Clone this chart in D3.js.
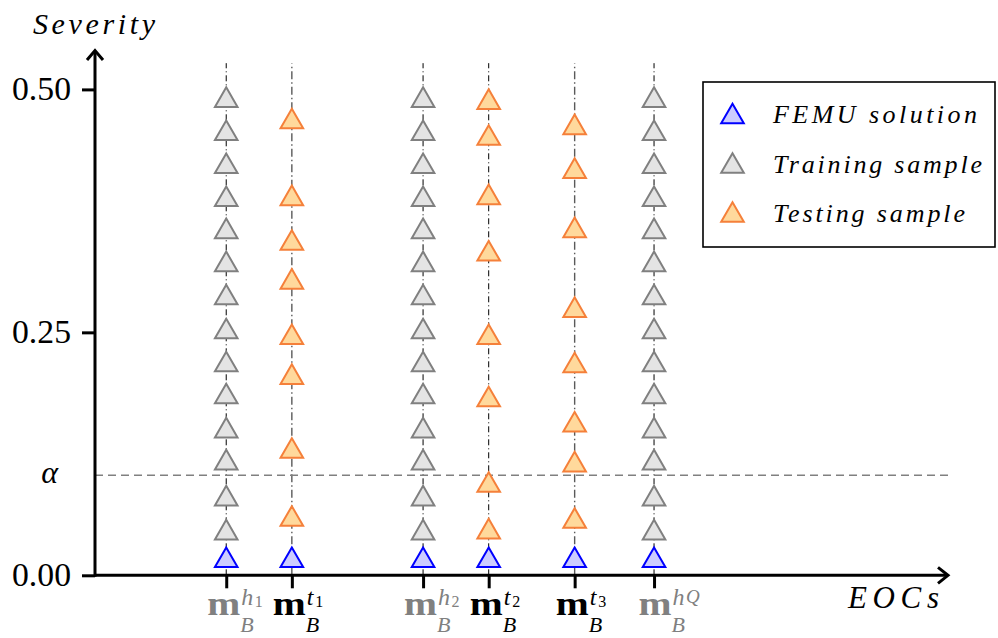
<!DOCTYPE html>
<html>
<head>
<meta charset="utf-8">
<script src="https://cdn.jsdelivr.net/npm/d3@7"></script>
<style>
  body { margin: 0; background: #fff; }
  svg { display: block; }
</style>
</head>
<body>
<svg id="chart" width="998" height="638"></svg>
<script>
// EOC columns along the horizontal axis
const eocNames = ["h1", "t1", "h2", "t2", "t3", "hQ"];
const eocPositions = [2, 3, 5, 6, 7.31, 8.52];
const eocKinds = ["training", "testing", "training", "testing", "testing", "training"];
const eocSupLetters = ["h", "t", "h", "t", "t", "h"];
const eocSupIndices = ["1", "1", "2", "2", "3", "Q"];

// Severity levels
const femuSeverity = 0.0185;
const trainingSeverities = [0.047, 0.082, 0.119, 0.152, 0.187, 0.220, 0.254,
                            0.289, 0.323, 0.357, 0.390, 0.424, 0.458, 0.492];
const testingT1 = [0.061, 0.131, 0.207, 0.248, 0.305, 0.345, 0.391, 0.470];
const testingT2 = [0.048, 0.096, 0.184, 0.248, 0.334, 0.392, 0.453, 0.490];
const testingT3 = [0.059, 0.117, 0.158, 0.219, 0.276, 0.358, 0.419, 0.464];

const yTicks = [0, 0.25, 0.5];
const yTickLabels = ["0.00", "0.25", "0.50"];
const alphaLevel = 0.103;
const columnTop = 0.527;

const legendLabels = ["FEMU solution", "Training sample", "Testing sample"];

// ---------------------------------------------------------------
const svg = d3.select("#chart");
const serif = '"Liberation Serif"';

const x = d3.scaleLinear().domain([0, 13]).range([95, 948]);
const y = d3.scaleLinear().domain([0, 0.5]).range([575.3, 89.4]);

const styles = {
  femu:     { fill: "#ccccff", stroke: "#0000ff" },
  training: { fill: "#e4e4e4", stroke: "#808080" },
  testing:  { fill: "#ffd99c", stroke: "#f5803a" }
};

const tri = d3.symbol().type({
  draw(ctx) {
    const w = 11.3, h = 9.8;
    ctx.moveTo(0, -h);
    ctx.lineTo(w, h);
    ctx.lineTo(-w, h);
    ctx.closePath();
  }
})();

// Helper for serif text with the usual settings
function label(parent, props) {
  const t = parent.append("text")
    .attr("x", props.x).attr("y", props.y)
    .style("font-family", serif)
    .style("font-size", props.size + "px")
    .style("font-style", props.italic ? "italic" : "normal")
    .style("font-weight", props.bold ? "bold" : "normal")
    .attr("fill", props.fill || "#000")
    .text(props.text);
  if (props.anchor) t.attr("text-anchor", props.anchor);
  if (props.length) t.attr("textLength", props.length).attr("lengthAdjust", props.adjust || "spacing");
  return t;
}

// Vertical dash-dot guides, one per EOC
const greyGuides = new Set(["t1", "t3"]);
svg.append("g").selectAll("line")
  .data(eocNames)
  .join("line")
  .attr("x1", (d, i) => x(eocPositions[i]))
  .attr("x2", (d, i) => x(eocPositions[i]))
  .attr("y1", y(0))
  .attr("y2", y(columnTop))
  .attr("stroke", d => greyGuides.has(d) ? "#5a5a5a" : "#000")
  .attr("stroke-width", d => greyGuides.has(d) ? 1.4 : 1)
  .attr("stroke-dasharray", d => greyGuides.has(d) ? "8,3,1.5,3" : "6,3,1,3");

// Alpha threshold
svg.append("line")
  .attr("x1", x(0)).attr("x2", x(13))
  .attr("y1", y(alphaLevel)).attr("y2", y(alphaLevel))
  .attr("stroke", "#808080")
  .attr("stroke-width", 1.5)
  .attr("stroke-dasharray", "8,5");

// Sample points
const testingByName = { t1: testingT1, t2: testingT2, t3: testingT3 };
const points = [];
eocNames.forEach((name, i) => {
  const vals = eocKinds[i] === "training" ? trainingSeverities : testingByName[name];
  vals.forEach(v => points.push({ pos: eocPositions[i], v, kind: eocKinds[i] }));
  points.push({ pos: eocPositions[i], v: femuSeverity, kind: "femu" });
});

svg.append("g").selectAll("path")
  .data(points)
  .join("path")
  .attr("d", tri)
  .attr("transform", d => `translate(${x(d.pos)},${y(d.v)})`)
  .attr("fill", d => styles[d.kind].fill)
  .attr("stroke", d => styles[d.kind].stroke)
  .attr("stroke-width", 2)
  .attr("stroke-linejoin", "miter");

// Axes
const yAxis = svg.append("g")
  .attr("transform", `translate(${x(0)},0)`)
  .call(d3.axisLeft(y).tickValues(yTicks).tickSize(13).tickPadding(11)
    .tickFormat((d, i) => yTickLabels[i]));
yAxis.attr("font-family", null).attr("font-size", null);
yAxis.select(".domain").remove();
yAxis.selectAll(".tick line").attr("stroke", "#000").attr("stroke-width", 3);
yAxis.selectAll(".tick text")
  .style("font-family", serif).style("font-size", "33px").attr("fill", "#000")
  .attr("textLength", 59).attr("lengthAdjust", "spacingAndGlyphs");

const xAxis = svg.append("g")
  .attr("transform", `translate(0,${y(0)})`)
  .call(d3.axisBottom(x).tickValues(eocPositions).tickSize(13).tickFormat(""));
xAxis.select(".domain").remove();
xAxis.selectAll(".tick line").attr("stroke", "#000").attr("stroke-width", 3);

// Axis spines with open arrow heads
const spine = svg.append("g").attr("stroke", "#000").attr("stroke-width", 3)
  .attr("fill", "none").attr("stroke-linecap", "butt");
spine.append("line").attr("x1", x(0)).attr("x2", x(13) - 1).attr("y1", y(0)).attr("y2", y(0));
spine.append("line").attr("x1", x(0)).attr("x2", x(0)).attr("y1", y(0) + 1.5).attr("y2", 51);
spine.append("polyline")
  .attr("points", `${x(13) - 10},${y(0) - 8} ${x(13)},${y(0)} ${x(13) - 10},${y(0) + 8}`);
spine.append("polyline")
  .attr("points", `${x(0) - 8},60 ${x(0)},50.5 ${x(0) + 8},60`);

// Tick labels: bold m with superscript and subscript B
const tickLabels = svg.append("g");
eocNames.forEach((name, i) => {
  const colour = eocKinds[i] === "training" ? "#808080" : "#000";
  const left = x(eocPositions[i]) - 19 + (eocSupIndices[i] === "Q" ? 3.5 : 0);
  const letter = eocSupLetters[i];
  const idx = eocSupIndices[i];
  label(tickLabels, { x: left, y: 615, size: 33, bold: true, text: "m", fill: colour,
                      length: 33, adjust: "spacingAndGlyphs" });
  label(tickLabels, { x: left + 34, y: 605, size: 24, italic: true, text: letter, fill: colour });
  label(tickLabels, { x: left + (letter === "h" ? 47.5 : 42.5), y: idx === "Q" ? 603 : 607,
                      size: idx === "Q" ? 19 : 16, italic: idx === "Q", text: idx, fill: colour });
  label(tickLabels, { x: left + 33, y: 632, size: 22, italic: true, text: "B", fill: colour });
});

// Axis titles and threshold label
label(svg, { x: 33, y: 34, size: 30, italic: true, text: "Severity", length: 122 });
label(svg, { x: 848, y: 608, size: 31, italic: true, text: "EOCs", length: 91 });
label(svg, { x: 58, y: 483, size: 32, italic: true, text: "α", anchor: "end" });

// Legend
const legend = svg.append("g");
legend.append("rect")
  .attr("x", 703).attr("y", 82).attr("width", 292).attr("height", 165)
  .attr("fill", "#fff").attr("stroke", "#000").attr("stroke-width", 1.6);
const legendKinds = ["femu", "training", "testing"];
const legendRows = [113.5, 163, 212];
const legendWidths = [204, 209, 192];
legendLabels.forEach((text, i) => {
  legend.append("path").attr("d", tri)
    .attr("transform", `translate(732.5,${legendRows[i]})`)
    .attr("fill", styles[legendKinds[i]].fill)
    .attr("stroke", styles[legendKinds[i]].stroke)
    .attr("stroke-width", 2);
  label(legend, { x: 773, y: legendRows[i] + 9.5, size: 26, italic: true, text,
                  length: legendWidths[i] });
});
</script>
</body>
</html>
